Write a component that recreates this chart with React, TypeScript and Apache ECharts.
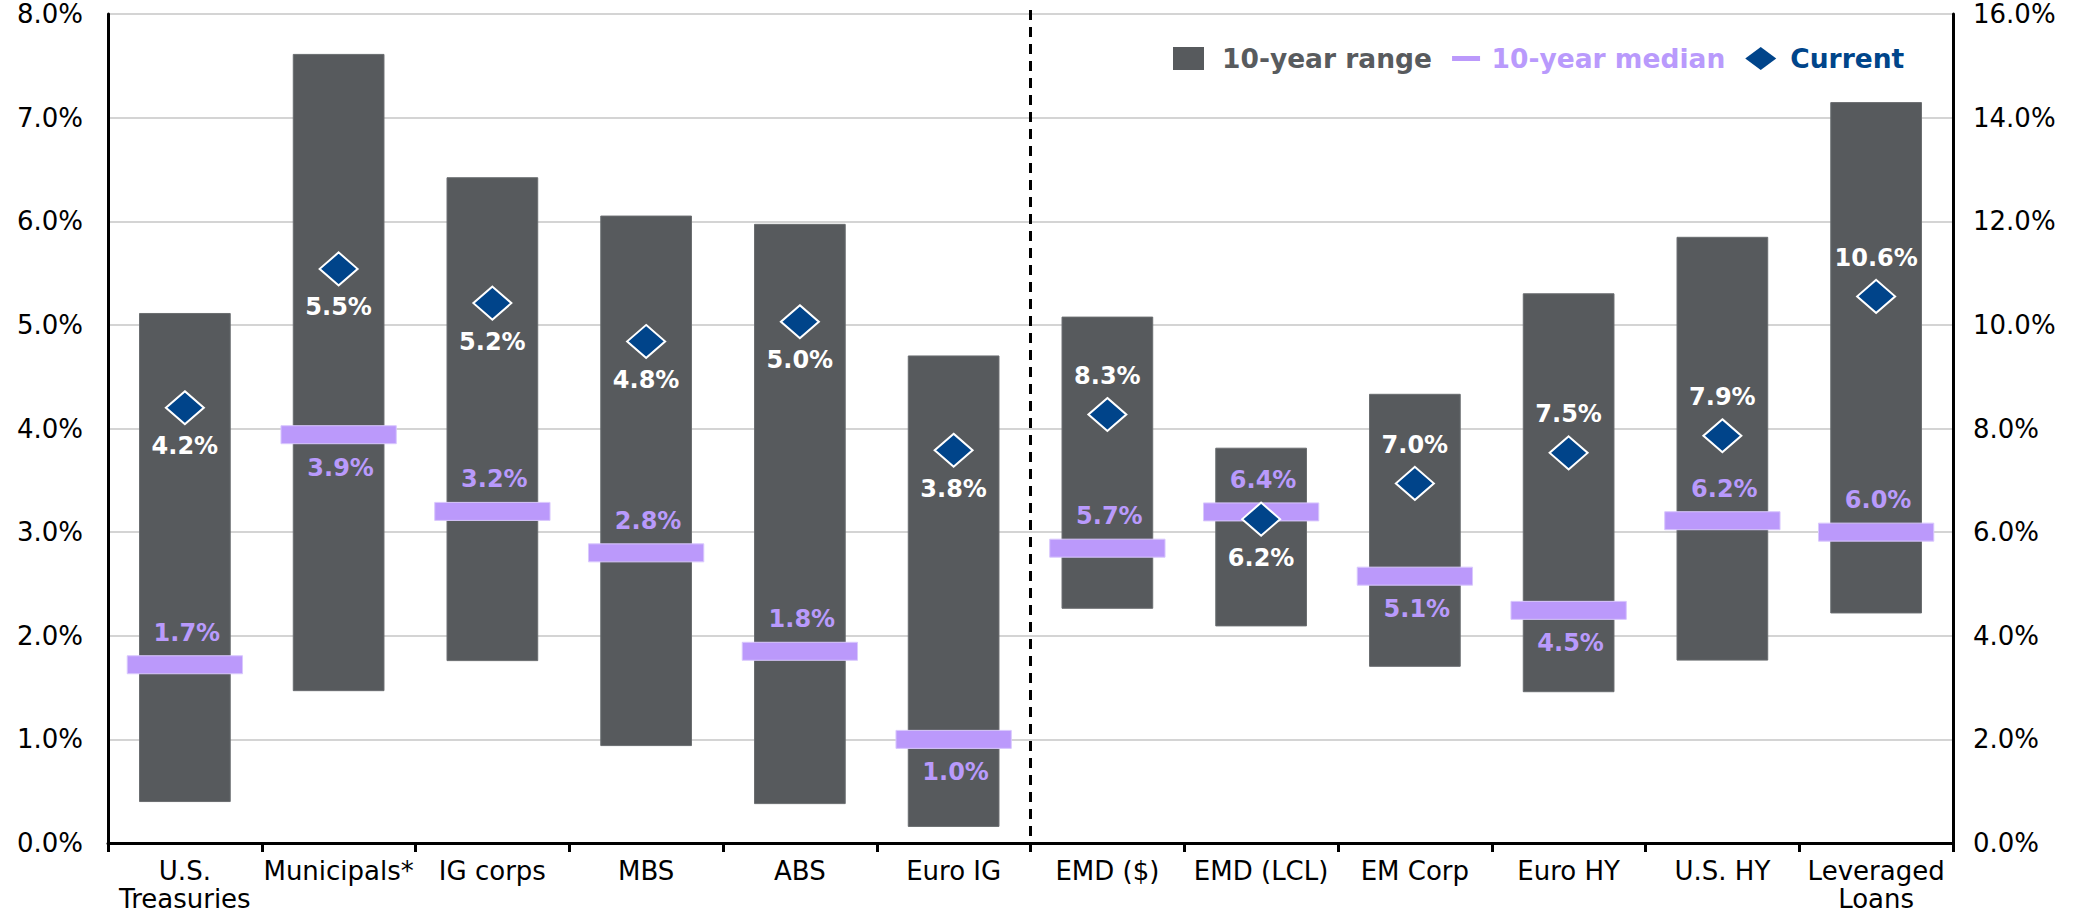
import React, { useEffect, useRef } from "react";
import * as echarts from "echarts";

// ---- Data ----
const categories = [
  "U.S.\nTreasuries",
  "Municipals*",
  "IG corps",
  "MBS",
  "ABS",
  "Euro IG",
  "EMD ($)",
  "EMD (LCL)",
  "EM Corp",
  "Euro HY",
  "U.S. HY",
  "Leveraged\nLoans",
];
// 0 = left axis (0-8%), 1 = right axis (0-16%)
const axisOfCategory = [0, 0, 0, 0, 0, 0, 1, 1, 1, 1, 1, 1];
const rangeLow = [0.4, 1.47, 1.76, 0.94, 0.38, 0.16, 4.53, 4.19, 3.41, 2.92, 3.53, 4.44];
const rangeHigh = [5.11, 7.61, 6.42, 6.05, 5.97, 4.7, 10.15, 7.62, 8.66, 10.6, 11.69, 14.29];
const median = [1.72, 3.94, 3.2, 2.8, 1.85, 1.0, 5.69, 6.39, 5.15, 4.49, 6.22, 6.0];
const current = [4.2, 5.54, 5.21, 4.84, 5.03, 3.79, 8.27, 6.25, 6.94, 7.53, 7.86, 10.55];
const medianLabels = ["1.7%", "3.9%", "3.2%", "2.8%", "1.8%", "1.0%", "5.7%", "6.4%", "5.1%", "4.5%", "6.2%", "6.0%"];
const currentLabels = ["4.2%", "5.5%", "5.2%", "4.8%", "5.0%", "3.8%", "8.3%", "6.2%", "7.0%", "7.5%", "7.9%", "10.6%"];
const medianLabelSide = ["above", "below", "above", "above", "above", "below", "above", "above", "below", "below", "above", "above"];
const currentLabelSide = ["below", "below", "below", "below", "below", "below", "above", "below", "above", "above", "above", "above"];
const leftAxis = { min: 0, max: 8, interval: 1 };
const rightAxis = { min: 0, max: 16, interval: 2 };
const legendNames = ["10-year range", "10-year median", "Current"];

const FONT = '"DejaVu Sans", Verdana, sans-serif';
const C_RANGE = "#575a5d";
const C_MEDIAN = "#bb99fb";
const C_CURRENT = "#00448a";

function idxFor(axis: number) {
  return categories.map((_, i) => i).filter((i) => axisOfCategory[i] === axis);
}

function rangeRender(params: any, api: any) {
  const i = api.value(0);
  const lo = api.coord([i, api.value(1)]);
  const hi = api.coord([i, api.value(2)]);
  const bw = api.size([1, 0])[0];
  const w = bw * 0.59;
  const children: any[] = [
    {
      type: "rect",
      shape: { x: lo[0] - w / 2, y: hi[1], width: w, height: lo[1] - hi[1] },
      style: { fill: C_RANGE, stroke: "#6a6d70", lineWidth: 1 },
    },
  ];
  if (i + 1 < categories.length && axisOfCategory[i + 1] !== axisOfCategory[i]) {
    const cs = params.coordSys;
    const xb = lo[0] + bw / 2;
    children.push({
      type: "line",
      shape: { x1: xb, y1: cs.y - 4, x2: xb, y2: cs.y + cs.height },
      style: { stroke: "#000", lineWidth: 3, lineDash: [10, 7] },
      z2: 50,
    });
  }
  return { type: "group", children };
}

function medianRender(params: any, api: any) {
  const i = api.value(0);
  const p = api.coord([i, api.value(1)]);
  const bw = api.size([1, 0])[0];
  const w = bw * 0.75;
  const h = 18;
  const ly = medianLabelSide[i] === "above" ? p[1] - 32 : p[1] + 33;
  return {
    type: "group",
    children: [
      {
        type: "rect",
        shape: { x: p[0] - w / 2, y: p[1] - h / 2, width: w, height: h },
        style: { fill: C_MEDIAN, stroke: "#d9c8fd", lineWidth: 1 },
      },
      {
        type: "text",
        x: p[0] + 2,
        y: ly,
        style: {
          text: medianLabels[i],
          fill: "#b99afc",
          font: `bold 24px ${FONT}`,
          align: "center",
          verticalAlign: "middle",
        },
      },
    ],
  };
}

function buildOption() {
  const series: any[] = [];
  [0, 1].forEach((axis) => {
    const ids = idxFor(axis);
    series.push({
      name: legendNames[0],
      type: "custom",
      yAxisIndex: axis,
      renderItem: rangeRender,
      encode: { x: 0, y: [1, 2] },
      data: ids.map((i) => [i, rangeLow[i], rangeHigh[i]]),
      itemStyle: { color: C_RANGE },
      z: 2,
    });
  });
  [0, 1].forEach((axis) => {
    const ids = idxFor(axis);
    series.push({
      name: legendNames[1],
      type: "custom",
      yAxisIndex: axis,
      renderItem: medianRender,
      encode: { x: 0, y: 1 },
      data: ids.map((i) => [i, median[i]]),
      itemStyle: { color: C_MEDIAN },
      z: 3,
    });
  });
  [0, 1].forEach((axis) => {
    const ids = idxFor(axis);
    series.push({
      name: legendNames[2],
      type: "scatter",
      yAxisIndex: axis,
      symbol: "diamond",
      symbolSize: [38, 33],
      itemStyle: { color: C_CURRENT, borderColor: "#ffffff", borderWidth: 2, opacity: 1 },
      data: ids.map((i) => ({
        value: [i, current[i]],
        label: { position: currentLabelSide[i] === "above" ? "top" : "bottom" },
      })),
      label: {
        show: true,
        distance: 9,
        color: "#ffffff",
        fontFamily: FONT,
        fontWeight: "bold",
        fontSize: 24,
        formatter: (p: any) => currentLabels[p.value[0]],
      },
      z: 4,
    });
  });

  const yLabel = (v: number) => v.toFixed(1) + "%";

  return {
    animation: false,
    textStyle: { fontFamily: FONT },
    grid: { left: 108, right: 124, top: 14, bottom: 74, containLabel: false },
    legend: {
      left: 1168,
      top: 40,
      itemWidth: 31,
      itemHeight: 23,
      itemGap: 20,
      selectedMode: false,
      textStyle: { fontFamily: FONT, fontWeight: "bold", fontSize: 26.5 },
      data: [
        {
          name: legendNames[0],
          icon: "rect",
          itemStyle: { color: C_RANGE, borderWidth: 0 },
          textStyle: { color: "#585b5e", padding: [0, 0, 0, 13] },
        },
        {
          name: legendNames[1],
          icon: "path://M0,0h0.01v0.01h-0.01zM0,9h28v5h-28zM27.99,22.99h0.01v0.01h-0.01z",
          itemStyle: { color: C_MEDIAN, borderWidth: 0 },
          textStyle: { color: "#b99afc", padding: [0, 6, 0, 5] },
        },
        {
          name: legendNames[2],
          icon: "diamond",
          itemStyle: { color: C_CURRENT, borderWidth: 0 },
          textStyle: { color: "#00458a", padding: [0, 0, 0, 9] },
        },
      ],
    },
    xAxis: {
      type: "category",
      data: categories,
      boundaryGap: true,
      axisLine: { show: true, lineStyle: { color: "#000", width: 3 } },
      axisTick: { show: true, length: 9, lineStyle: { color: "#000", width: 3 } },
      axisLabel: {
        interval: 0,
        fontFamily: FONT,
        fontSize: 26,
        lineHeight: 28,
        color: "#000",
        margin: 14,
      },
      splitLine: { show: false },
    },
    yAxis: [
      {
        type: "value",
        position: "left",
        min: leftAxis.min,
        max: leftAxis.max,
        interval: leftAxis.interval,
        axisLine: { show: true, lineStyle: { color: "#000", width: 3 } },
        axisTick: { show: false },
        axisLabel: { formatter: yLabel, fontFamily: FONT, fontSize: 26, color: "#000", margin: 25 },
        splitLine: { show: true, lineStyle: { color: "#d4d4d4", width: 2 } },
      },
      {
        type: "value",
        position: "right",
        min: rightAxis.min,
        max: rightAxis.max,
        interval: rightAxis.interval,
        axisLine: { show: true, lineStyle: { color: "#000", width: 3 } },
        axisTick: { show: false },
        axisLabel: { formatter: yLabel, fontFamily: FONT, fontSize: 26, color: "#000", margin: 20 },
        splitLine: { show: false },
      },
    ],
    series,
  };
}

export default function App() {
  const ref = useRef<HTMLDivElement>(null);
  useEffect(() => {
    document.body.style.margin = "0";
    if (!ref.current) return;
    const chart = echarts.init(ref.current, null, { renderer: "svg" });
    chart.setOption(buildOption() as any);
    return () => chart.dispose();
  }, []);
  return <div ref={ref} style={{ width: 2077, height: 917, background: "#fff" }} />;
}
